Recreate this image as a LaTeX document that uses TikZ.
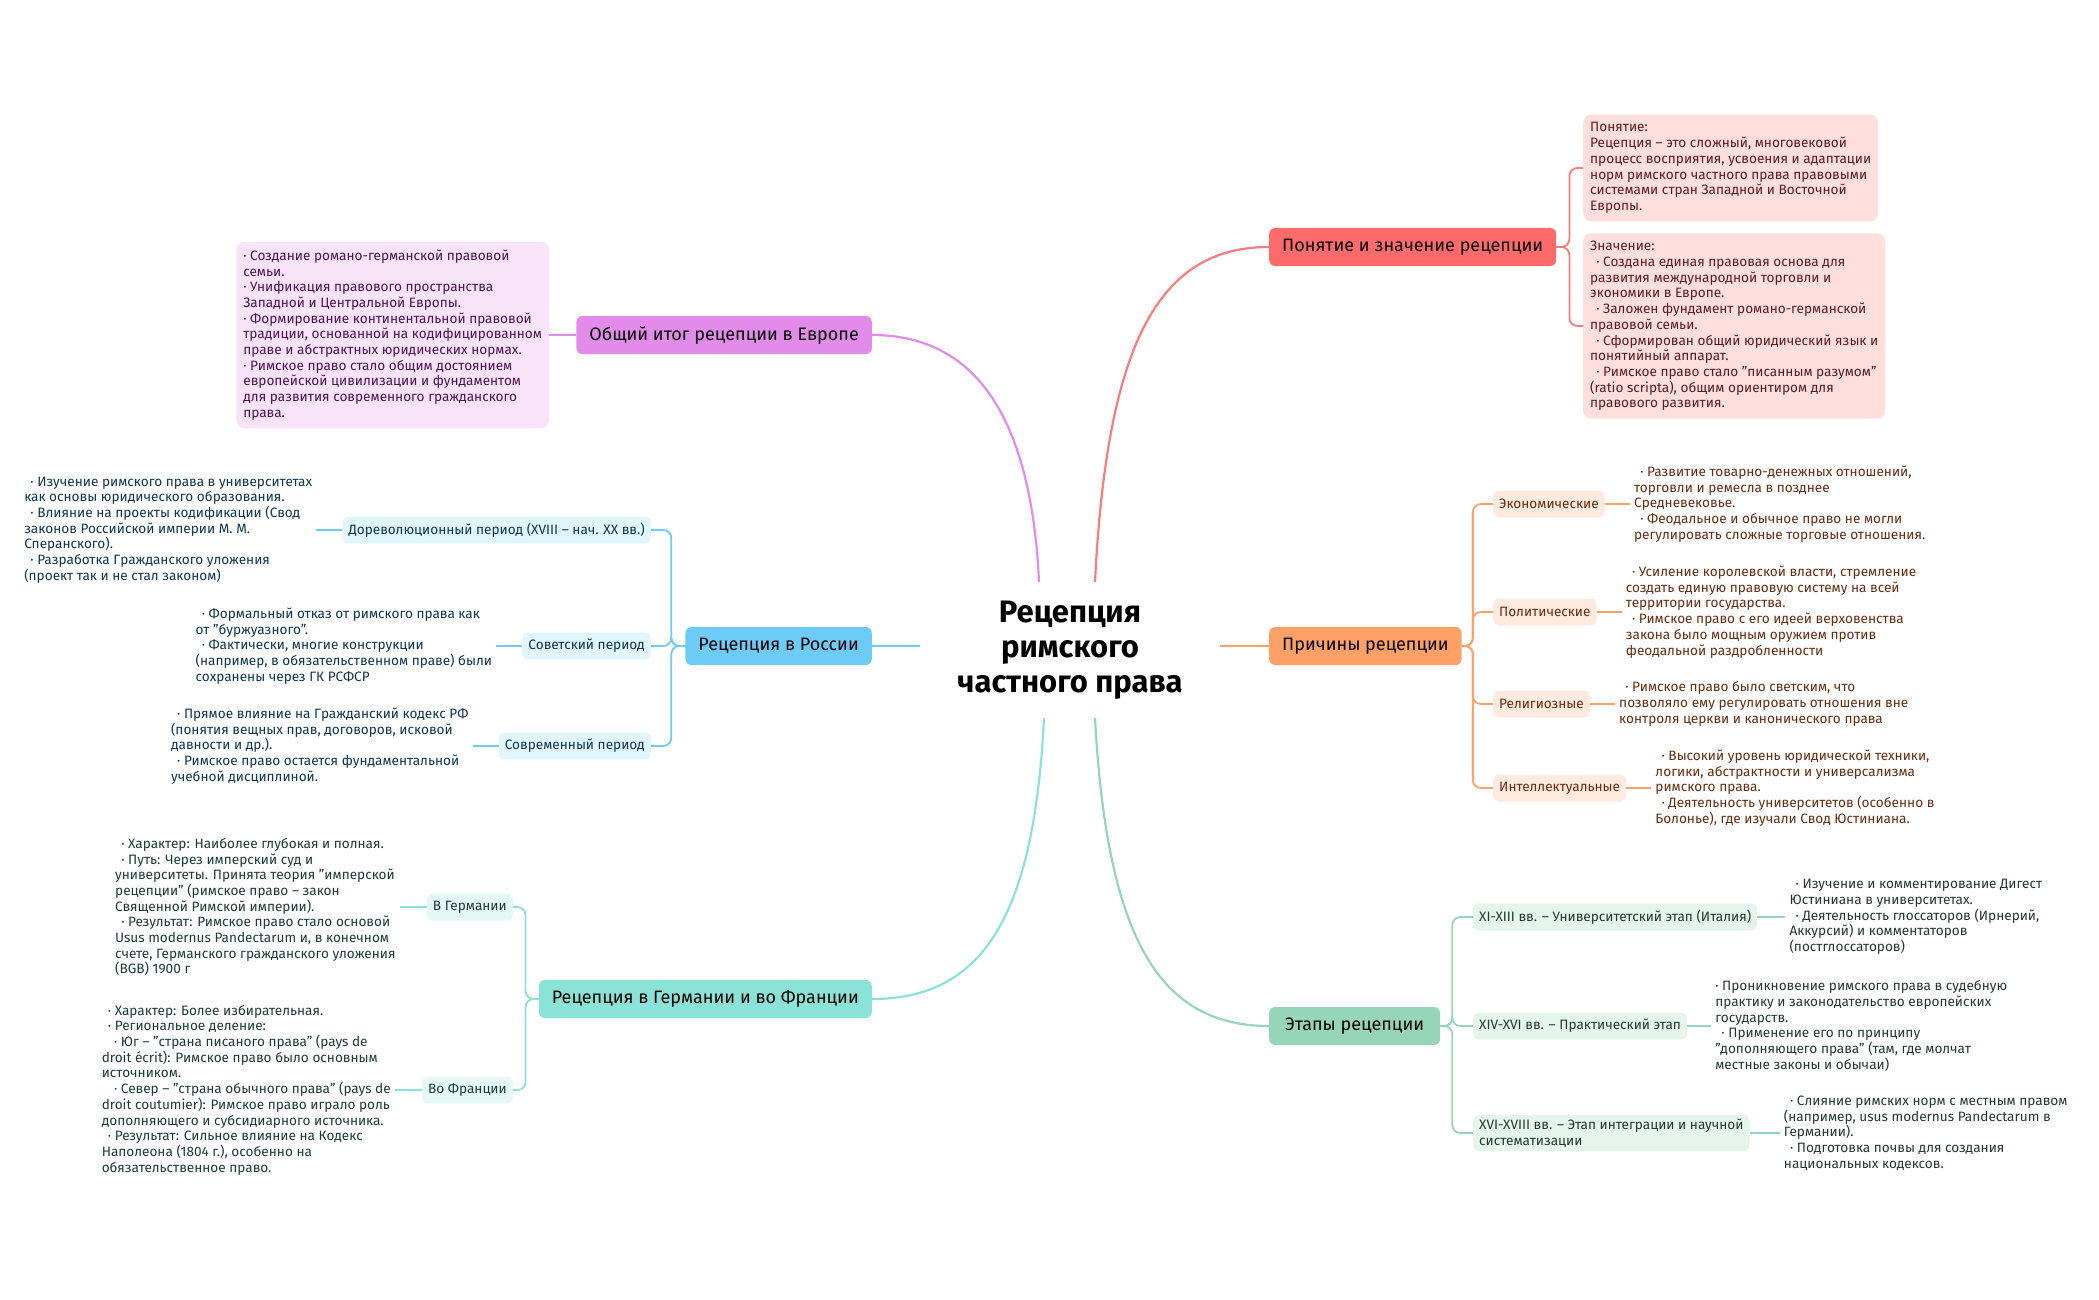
\documentclass[tikz,border=0pt]{standalone}
\usepackage{fontspec}
\setmainfont{Fira Sans}
\usetikzlibrary{positioning}

\definecolor{redM}{HTML}{FF6B6B}
\definecolor{redL}{HTML}{FF7A7A}
\definecolor{redS}{HTML}{FFDEDE}
\definecolor{redT}{HTML}{5E1C1C}
\definecolor{orangeM}{HTML}{FFA067}
\definecolor{orangeS}{HTML}{FFEADF}
\definecolor{orangeT}{HTML}{6A2C0E}
\definecolor{greenM}{HTML}{97D5B8}
\definecolor{greenS}{HTML}{E5F5EC}
\definecolor{greenT}{HTML}{23392F}
\definecolor{purpleM}{HTML}{E38BEA}
\definecolor{purpleS}{HTML}{F8E3F9}
\definecolor{purpleT}{HTML}{4B1452}
\definecolor{blueM}{HTML}{6CCBF7}
\definecolor{blueS}{HTML}{E1F5FD}
\definecolor{blueT}{HTML}{0E3652}
\definecolor{tealM}{HTML}{8BE3D8}
\definecolor{tealS}{HTML}{E5F8F6}
\definecolor{tealT}{HTML}{1B3C39}

\newcommand{\hdfont}{\fontsize{31}{35}\selectfont\bfseries}
\newcommand{\topicfont}{\fontsize{18}{22}\selectfont}
\newcommand{\bodyfont}{\fontsize{13.6}{15.7}\selectfont}
\newcommand{\bul}{\hspace*{0.45em}·\ }
\newcommand{\bulx}{\hspace*{0.9em}·\ }

\tikzset{
	topic/.style={rounded corners=6pt, minimum height=38pt, inner xsep=13pt, font=\topicfont, text=black},
	sub/.style={rounded corners=6pt, minimum height=27pt, inner xsep=6pt, inner ysep=4pt, font=\bodyfont, align=left},
	leaf/.style={inner sep=4pt, font=\bodyfont, align=left},
	note/.style={rounded corners=8pt, inner xsep=7pt, inner ysep=8pt, font=\bodyfont, align=left},
	trunk/.style={line width=2.2pt},
	twig/.style={line width=1.8pt, rounded corners=8pt},
}

\begin{document}
\begin{tikzpicture}[x=1pt, y=-1pt]
	\useasboundingbox (0,0) rectangle (2099,1300);
	\node[minimum width=299pt, minimum height=136pt, inner sep=0, align=center, font=\hdfont] (root) at (1070,650) {Рецепция\\римского\\частного права};

	\node[topic, fill=redM, anchor=west] (ponyatie) at (1269,247) {Понятие и значение рецепции};
	\node[topic, fill=orangeM, anchor=west] (prichiny) at (1269,646) {Причины рецепции};
	\node[topic, fill=greenM, anchor=west, inner xsep=16pt] (etapy) at (1269,1026) {Этапы рецепции};
	\node[topic, fill=purpleM, anchor=east] (itog) at (872,335) {Общий итог рецепции в Европе};
	\node[topic, fill=blueM, anchor=east] (rossiya) at (872,646) {Рецепция в России};
	\node[topic, fill=tealM, anchor=east] (gerfr) at (872,999) {Рецепция в Германии и во Франции};

	\draw[trunk, redL] ([xshift=25pt]root.north) .. controls +(12,-240) and +(-110,0) .. (ponyatie.west);
	\draw[trunk, purpleM] ([xshift=-31pt]root.north) .. controls +(-8,-170) and +(100,0) .. (itog.east);
	\draw[trunk, blueM] ([yshift=4pt]root.west) -- (rossiya.east);
	\draw[trunk, orangeM] ([yshift=4pt]root.east) -- (prichiny.west);
	\draw[trunk, tealM] ([xshift=-26pt]root.south) .. controls +(-10,200) and +(110,0) .. (gerfr.east);
	\draw[trunk, greenM] ([xshift=25pt]root.south) .. controls +(12,220) and +(-110,0) .. (etapy.west);

	\node[note, fill=redS, text=redT, anchor=west] (pon1) at (1583,168) {Понятие:\\Рецепция – это сложный, многовековой\\процесс восприятия, усвоения и адаптации\\норм римского частного права правовыми\\системами стран Западной и Восточной\\Европы.};
	\node[note, fill=redS, text=redT, anchor=west] (pon2) at (1583,326) {Значение:\\\bul Создана единая правовая основа для\\развития международной торговли и\\экономики в Европе.\\\bul Заложен фундамент романо-германской\\правовой семьи.\\\bul Сформирован общий юридический язык и\\понятийный аппарат.\\\bul Римское право стало "писанным разумом"\\(ratio scripta), общим ориентиром для\\правового развития.};
	\foreach \n in {pon1,pon2}
		\draw[twig, redL] (ponyatie.east) -- ++(13,0) |- (\n.west);

	\node[note, fill=purpleS, text=purpleT, left=27pt of itog] (itogtxt) {· Создание романо-германской правовой\\семьи.\\· Унификация правового пространства\\Западной и Центральной Европы.\\· Формирование континентальной правовой\\традиции, основанной на кодифицированном\\праве и абстрактных юридических нормах.\\· Римское право стало общим достоянием\\европейской цивилизации и фундаментом\\для развития современного гражданского\\права.};
	\draw[twig, purpleM] (itog.west) -- (itogtxt.east);

	\node[sub, fill=blueS, text=blueT, anchor=east] (dorev) at (651,530) {Дореволюционный период (XVIII – нач. XX вв.)};
	\node[sub, fill=blueS, text=blueT, anchor=east] (sovet) at (651,646) {Советский период};
	\node[sub, fill=blueS, text=blueT, anchor=east] (sovrem) at (651,746) {Современный период};
	\foreach \n in {dorev,sovet,sovrem}
		\draw[twig, blueM] (rossiya.west) -- ++(-14,0) |- (\n.east);
	\node[leaf, text=blueT, left=26pt of dorev] (dorevtxt) {\bul Изучение римского права в университетах\\как основы юридического образования.\\\bul Влияние на проекты кодификации (Свод\\законов Российской империи М. М.\\Сперанского).\\\bul Разработка Гражданского уложения\\(проект так и не стал законом)};
	\node[leaf, text=blueT, left=26pt of sovet] (sovettxt) {\bul Формальный отказ от римского права как\\от "буржуазного".\\\bul Фактически, многие конструкции\\(например, в обязательственном праве) были\\сохранены через ГК РСФСР};
	\node[leaf, text=blueT, left=26pt of sovrem] (sovremtxt) {\bul Прямое влияние на Гражданский кодекс РФ\\(понятия вещных прав, договоров, исковой\\давности и др.).\\\bul Римское право остается фундаментальной\\учебной дисциплиной.};
	\draw[twig, blueM] (dorev.west) -- (dorevtxt.east);
	\draw[twig, blueM] (sovet.west) -- (sovettxt.east);
	\draw[twig, blueM] (sovrem.west) -- (sovremtxt.east);

	\node[sub, fill=tealS, text=tealT, anchor=east] (germ) at (513,907) {В Германии};
	\node[sub, fill=tealS, text=tealT, anchor=east] (fran) at (513,1090) {Во Франции};
	\foreach \n in {germ,fran}
		\draw[twig, tealM] (gerfr.west) -- ++(-13,0) |- (\n.east);
	\node[leaf, text=tealT, left=27pt of germ] (germtxt) {\bul Характер: Наиболее глубокая и полная.\\\bul Путь: Через имперский суд и\\университеты. Принята теория "имперской\\рецепции" (римское право – закон\\Священной Римской империи).\\\bul Результат: Римское право стало основой\\Usus modernus Pandectarum и, в конечном\\счете, Германского гражданского уложения\\(BGB) 1900 г};
	\node[leaf, text=tealT, left=27pt of fran] (frantxt) {\bul Характер: Более избирательная.\\\bul Региональное деление:\\\bulx Юг – "страна писаного права" (pays de\\droit écrit): Римское право было основным\\источником.\\\bulx Север – "страна обычного права" (pays de\\droit coutumier): Римское право играло роль\\дополняющего и субсидиарного источника.\\\bul Результат: Сильное влияние на Кодекс\\Наполеона (1804 г.), особенно на\\обязательственное право.};
	\draw[twig, tealM] (germ.west) -- (germtxt.east);
	\draw[twig, tealM] (fran.west) -- (frantxt.east);

	\node[sub, fill=orangeS, text=orangeT, anchor=west] (eco) at (1493,504) {Экономические};
	\node[sub, fill=orangeS, text=orangeT, anchor=west] (pol) at (1493,612) {Политические};
	\node[sub, fill=orangeS, text=orangeT, anchor=west] (rel) at (1493,704) {Религиозные};
	\node[sub, fill=orangeS, text=orangeT, anchor=west] (intl) at (1493,788) {Интеллектуальные};
	\foreach \n in {eco,pol,rel,intl}
		\draw[twig, orangeM] (prichiny.east) -- ++(11,0) |- (\n.west);
	\node[leaf, text=orangeT, right=25pt of eco] (ecotxt) {\bul Развитие товарно-денежных отношений,\\торговли и ремесла в позднее\\Средневековье.\\\bul Феодальное и обычное право не могли\\регулировать сложные торговые отношения.};
	\node[leaf, text=orangeT, right=25pt of pol] (poltxt) {\bul Усиление королевской власти, стремление\\создать единую правовую систему на всей\\территории государства.\\\bul Римское право с его идеей верховенства\\закона было мощным оружием против\\феодальной раздробленности};
	\node[leaf, text=orangeT, right=25pt of rel] (reltxt) {\bul Римское право было светским, что\\позволяло ему регулировать отношения вне\\контроля церкви и канонического права};
	\node[leaf, text=orangeT, right=25pt of intl] (intltxt) {\bul Высокий уровень юридической техники,\\логики, абстрактности и универсализма\\римского права.\\\bul Деятельность университетов (особенно в\\Болонье), где изучали Свод Юстиниана.};
	\draw[twig, orangeM] (eco.east) -- (ecotxt.west);
	\draw[twig, orangeM] (pol.east) -- (poltxt.west);
	\draw[twig, orangeM] (rel.east) -- (reltxt.west);
	\draw[twig, orangeM] (intl.east) -- (intltxt.west);

	\node[sub, fill=greenS, text=greenT, anchor=west] (univ) at (1473,917) {XI-XIII вв. – Университетский этап (Италия)};
	\node[sub, fill=greenS, text=greenT, anchor=west] (prakt) at (1473,1026) {XIV-XVI вв. – Практический этап};
	\node[sub, fill=greenS, text=greenT, anchor=west] (integ) at (1473,1133) {XVI-XVIII вв. – Этап интеграции и научной\\систематизации};
	\foreach \n in {univ,prakt,integ}
		\draw[twig, greenM] (etapy.east) -- ++(12,0) |- (\n.west);
	\node[leaf, text=greenT, right=28pt of univ] (univtxt) {\bul Изучение и комментирование Дигест\\Юстиниана в университетах.\\\bul Деятельность глоссаторов (Ирнерий,\\Аккурсий) и комментаторов\\(постглоссаторов)};
	\node[leaf, text=greenT, right=24pt of prakt] (prakttxt) {· Проникновение римского права в судебную\\практику и законодательство европейских\\государств.\\\bul Применение его по принципу\\"дополняющего права" (там, где молчат\\местные законы и обычаи)};
	\node[leaf, text=greenT, right=30pt of integ] (integtxt) {\bul Слияние римских норм с местным правом\\(например, usus modernus Pandectarum в\\Германии).\\\bul Подготовка почвы для создания\\национальных кодексов.};
	\draw[twig, greenM] (univ.east) -- (univtxt.west);
	\draw[twig, greenM] (prakt.east) -- (prakttxt.west);
	\draw[twig, greenM] (integ.east) -- (integtxt.west);
\end{tikzpicture}
\end{document}
